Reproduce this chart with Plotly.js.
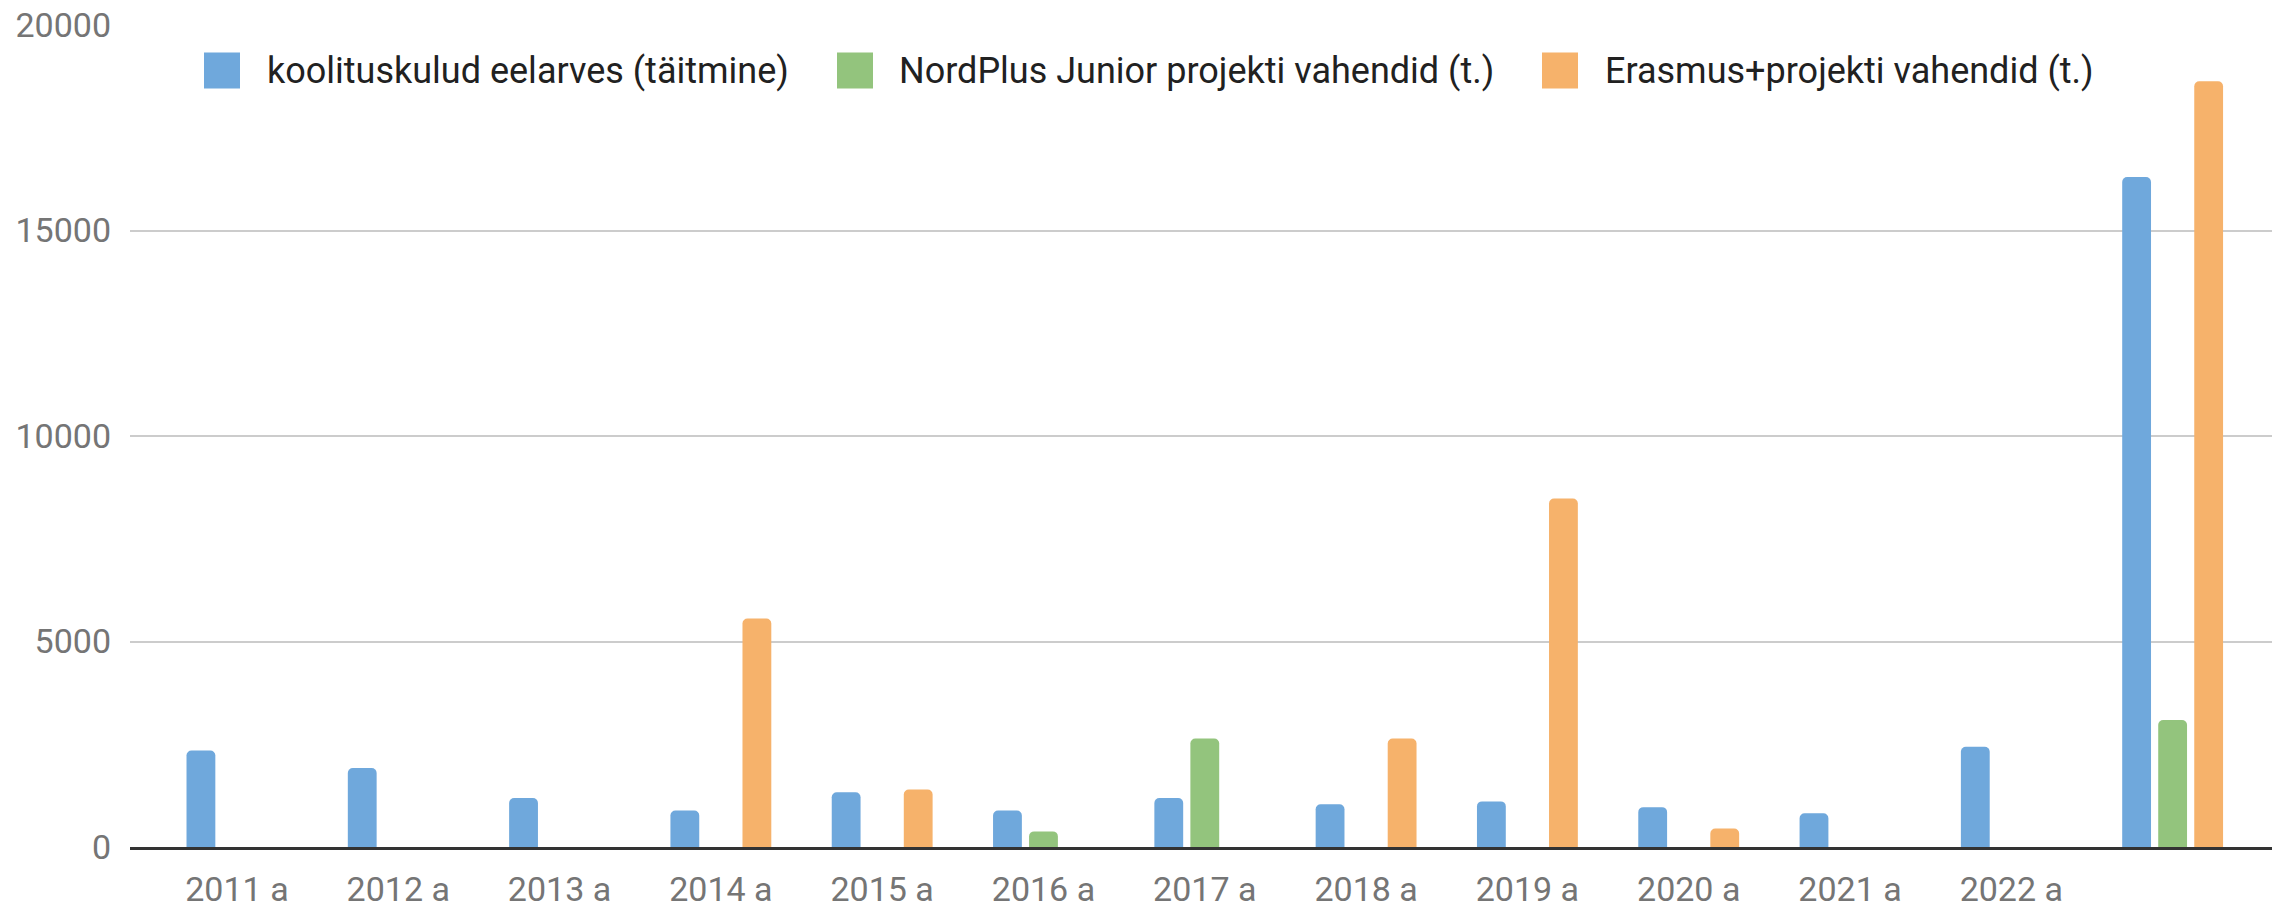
<!DOCTYPE html>
<html>
<head>
<meta charset="utf-8">
<script src="https://cdn.plot.ly/plotly-3.0.1.min.js"></script>
<style>html,body{margin:0;padding:0;background:#fff;}#chart{width:2272px;height:909px;}</style>
</head>
<body>
<div id="chart"></div>
<script>
// ---- data ----
var categories = ["2011 a","2012 a","2013 a","2014 a","2015 a","2016 a","2017 a","2018 a","2019 a","2020 a","2021 a","2022 a"," "];
var seriesNames = ["koolituskulud eelarves (täitmine)","NordPlus Junior projekti vahendid (t.)","Erasmus+projekti vahendid (t.)"];
var koolituskulud = [2350, 1920, 1190, 890, 1330, 890, 1190, 1040, 1110, 970, 820, 2440, 16300];
var nordplus     = [null, null, null, null, null, 380, 2640, null, null, null, null, null, 3090];
var erasmus      = [null, null, null, 5560, 1400, null, null, 2640, 8480, 450, null, null, 18630];
var yTickVals = [0, 5000, 10000, 15000, 20000];

// ---- styling ----
var colors = ["#6fa8dc", "#93c47d", "#f6b26b"];
var W = 2272, H = 909;
var M = {l: 130, r: 0, t: 25, b: 62};
var plotW = W - M.l - M.r, plotH = H - M.t - M.b;
function px(x){ return (x - M.l) / plotW; }
function py(y){ return (H - M.b - y) / plotH; }

var values = [koolituskulud, nordplus, erasmus];
var traces = values.map(function(v, i){
  return {type: "bar", x: categories, y: v, name: seriesNames[i],
          marker: {color: colors[i], line: {width: 0}}, hoverinfo: "x+y+name"};
});

// manual legend (large squares like the original)
var legendPos = [{sq: 204, tx: 265}, {sq: 837, tx: 897}, {sq: 1542, tx: 1603}];
var shapes = [], annotations = [];
legendPos.forEach(function(p, i){
  shapes.push({type: "rect", xref: "paper", yref: "paper",
    x0: px(p.sq), x1: px(p.sq + 36), y0: py(52.5), y1: py(88.5),
    fillcolor: colors[i], line: {width: 0}, layer: "above"});
  annotations.push({xref: "paper", yref: "paper", x: px(p.tx), y: py(71),
    xanchor: "left", yanchor: "middle", showarrow: false, text: seriesNames[i],
    font: {family: "Roboto", size: 36, color: "#212121"}});
});

var layout = {
  width: W, height: H,
  margin: M,
  paper_bgcolor: "#ffffff", plot_bgcolor: "#ffffff",
  font: {family: "Roboto", size: 34, color: "#757575"},
  barmode: "group", bargap: 0.33, bargroupgap: 0.2,
  barcornerradius: 5,
  showlegend: false,
  xaxis: {type: "category", categoryorder: "array", categoryarray: categories,
          range: [-0.663, 12.616], showgrid: false, zeroline: false,
          showline: true, linecolor: "#333333", linewidth: 3,
          ticks: "", ticklabelstandoff: 10,
          tickfont: {family: "Roboto", size: 34, color: "#757575"}, fixedrange: true},
  yaxis: {range: [0, 20000], tickvals: yTickVals, ticktext: yTickVals.map(String),
          showgrid: true, gridcolor: "#cccccc", gridwidth: 2,
          zeroline: false, showline: false, ticks: "", ticklabelstandoff: 18,
          tickfont: {family: "Roboto", size: 34, color: "#757575"}, fixedrange: true},
  shapes: shapes,
  annotations: annotations
};

Plotly.newPlot("chart", traces, layout, {displayModeBar: false, staticPlot: true});
</script>
</body>
</html>
